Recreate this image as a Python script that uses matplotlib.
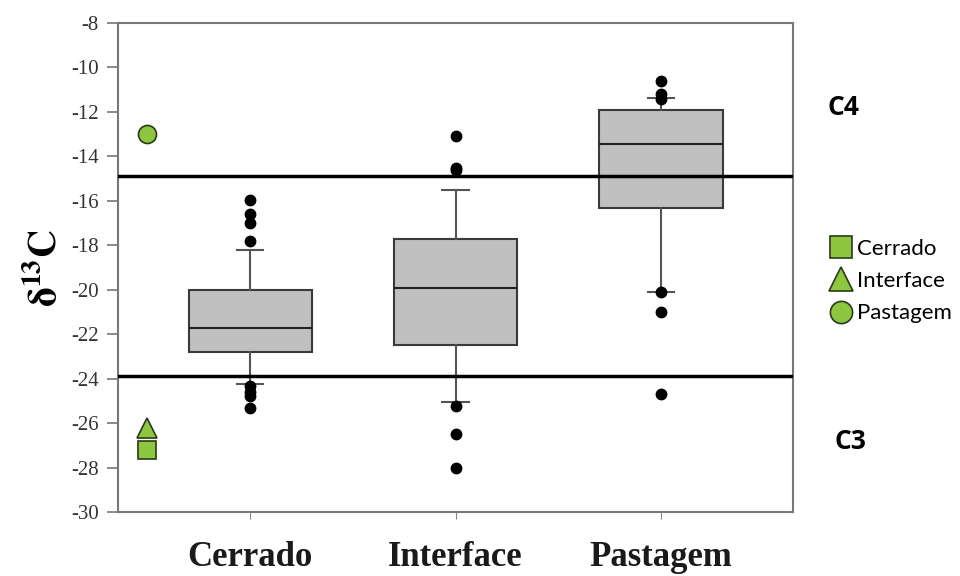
import matplotlib.pyplot as plt
from matplotlib.lines import Line2D

plt.rcParams['axes.unicode_minus'] = False
plt.rcParams['mathtext.fontset'] = 'stix'

# box statistics per land use (delta 13C, per mil)
groups = ['Cerrado', 'Interface', 'Pastagem']
q1 = [-22.8, -22.5, -16.3]
median = [-21.7, -19.9, -13.45]
q3 = [-20.0, -17.7, -11.9]
whis_lo = [-24.25, -25.05, -20.1]
whis_hi = [-18.2, -15.5, -11.35]
outliers = [
    [-15.95, -16.6, -17.0, -17.8, -24.35, -24.6, -24.8, -25.3],
    [-13.1, -14.5, -14.6, -25.25, -26.5, -28.0],
    [-10.6, -11.2, -11.4, -20.1, -21.0, -24.7],
]

# reference values for the three sites
ref_names = ['Cerrado', 'Interface', 'Pastagem']
ref_values = [-27.2, -26.2, -13.0]
ref_markers = ['s', '^', 'o']

# C3 / C4 limits
c4_limit = -14.9
c3_limit = -23.9

green = '#8dc63f'
serif = ['Liberation Serif', 'DejaVu Serif']

fig = plt.figure(figsize=(9.6, 5.76), dpi=100)
ax = fig.add_axes([0.123, 0.111, 0.703, 0.849])

stats = []
for i, name in enumerate(groups):
    stats.append({'label': name, 'q1': q1[i], 'med': median[i], 'q3': q3[i],
                  'whislo': whis_lo[i], 'whishi': whis_hi[i], 'fliers': outliers[i]})

ax.bxp(stats, positions=[1, 2, 3], widths=0.6, patch_artist=True,
       boxprops=dict(facecolor='#c0c0c0', edgecolor='#3a3a3a', linewidth=1.5),
       medianprops=dict(color='#222222', linewidth=1.5),
       whiskerprops=dict(color='#555555', linewidth=1.5),
       capprops=dict(color='#555555', linewidth=1.5),
       capwidths=0.13,
       flierprops=dict(marker='o', markerfacecolor='black', markeredgecolor='black',
                       markersize=7.5))

ax.axhline(c4_limit, color='black', linewidth=2.5, zorder=3)
ax.axhline(c3_limit, color='black', linewidth=2.5, zorder=3)

for val, mk in zip(ref_values, ref_markers):
    ax.plot(0.5, val, marker=mk, markersize=14 if mk == '^' else 13, color=green,
            markeredgecolor='#2a3a1a', markeredgewidth=1.2, linestyle='none',
            zorder=4, clip_on=False)

ax.set_xlim(0.357, 3.643)
ax.set_ylim(-30, -8)
ax.set_yticks(range(-30, -7, 2))
ax.set_xticks([1, 2, 3])
ax.set_xticklabels(groups, fontfamily=serif, fontsize=25, fontweight='bold',
                   color='#1a1a1a')
ax.tick_params(axis='x', length=5, color='#888888', pad=16)
ax.tick_params(axis='y', length=8, width=1.2, color='#777777', labelsize=15,
               labelcolor='#333333', pad=6)
for lbl in ax.get_yticklabels():
    lbl.set_fontfamily(serif)

for side in ['top', 'right', 'left', 'bottom']:
    ax.spines[side].set_color('#777777')
    ax.spines[side].set_linewidth(1.5)

ax.set_ylabel(r'$\mathbf{\delta^{13}C}$', fontsize=28, labelpad=4)

fig.text(0.862, 0.813, 'C4', fontsize=19, fontweight='bold', fontfamily='Open Sans',
         ha='left', va='center')
fig.text(0.869, 0.234, 'C3', fontsize=19, fontweight='bold', fontfamily='Open Sans',
         ha='left', va='center')

# legend for the site reference markers, outside the axes
handles = [Line2D([], [], marker=mk, color=green, markeredgecolor='#2a3a1a',
                  markersize=17 if mk == '^' else 16, linestyle='none',
                  markeredgewidth=1.2)
           for mk in ref_markers]
fig.legend(handles, ref_names, loc='center left', bbox_to_anchor=(0.864, 0.512),
           frameon=False, prop={'family': 'Lato', 'size': 16},
           handletextpad=0.25, labelspacing=0.55, borderaxespad=0, borderpad=0,
           handlelength=1.0)

fig.savefig('out.png', dpi=100)
